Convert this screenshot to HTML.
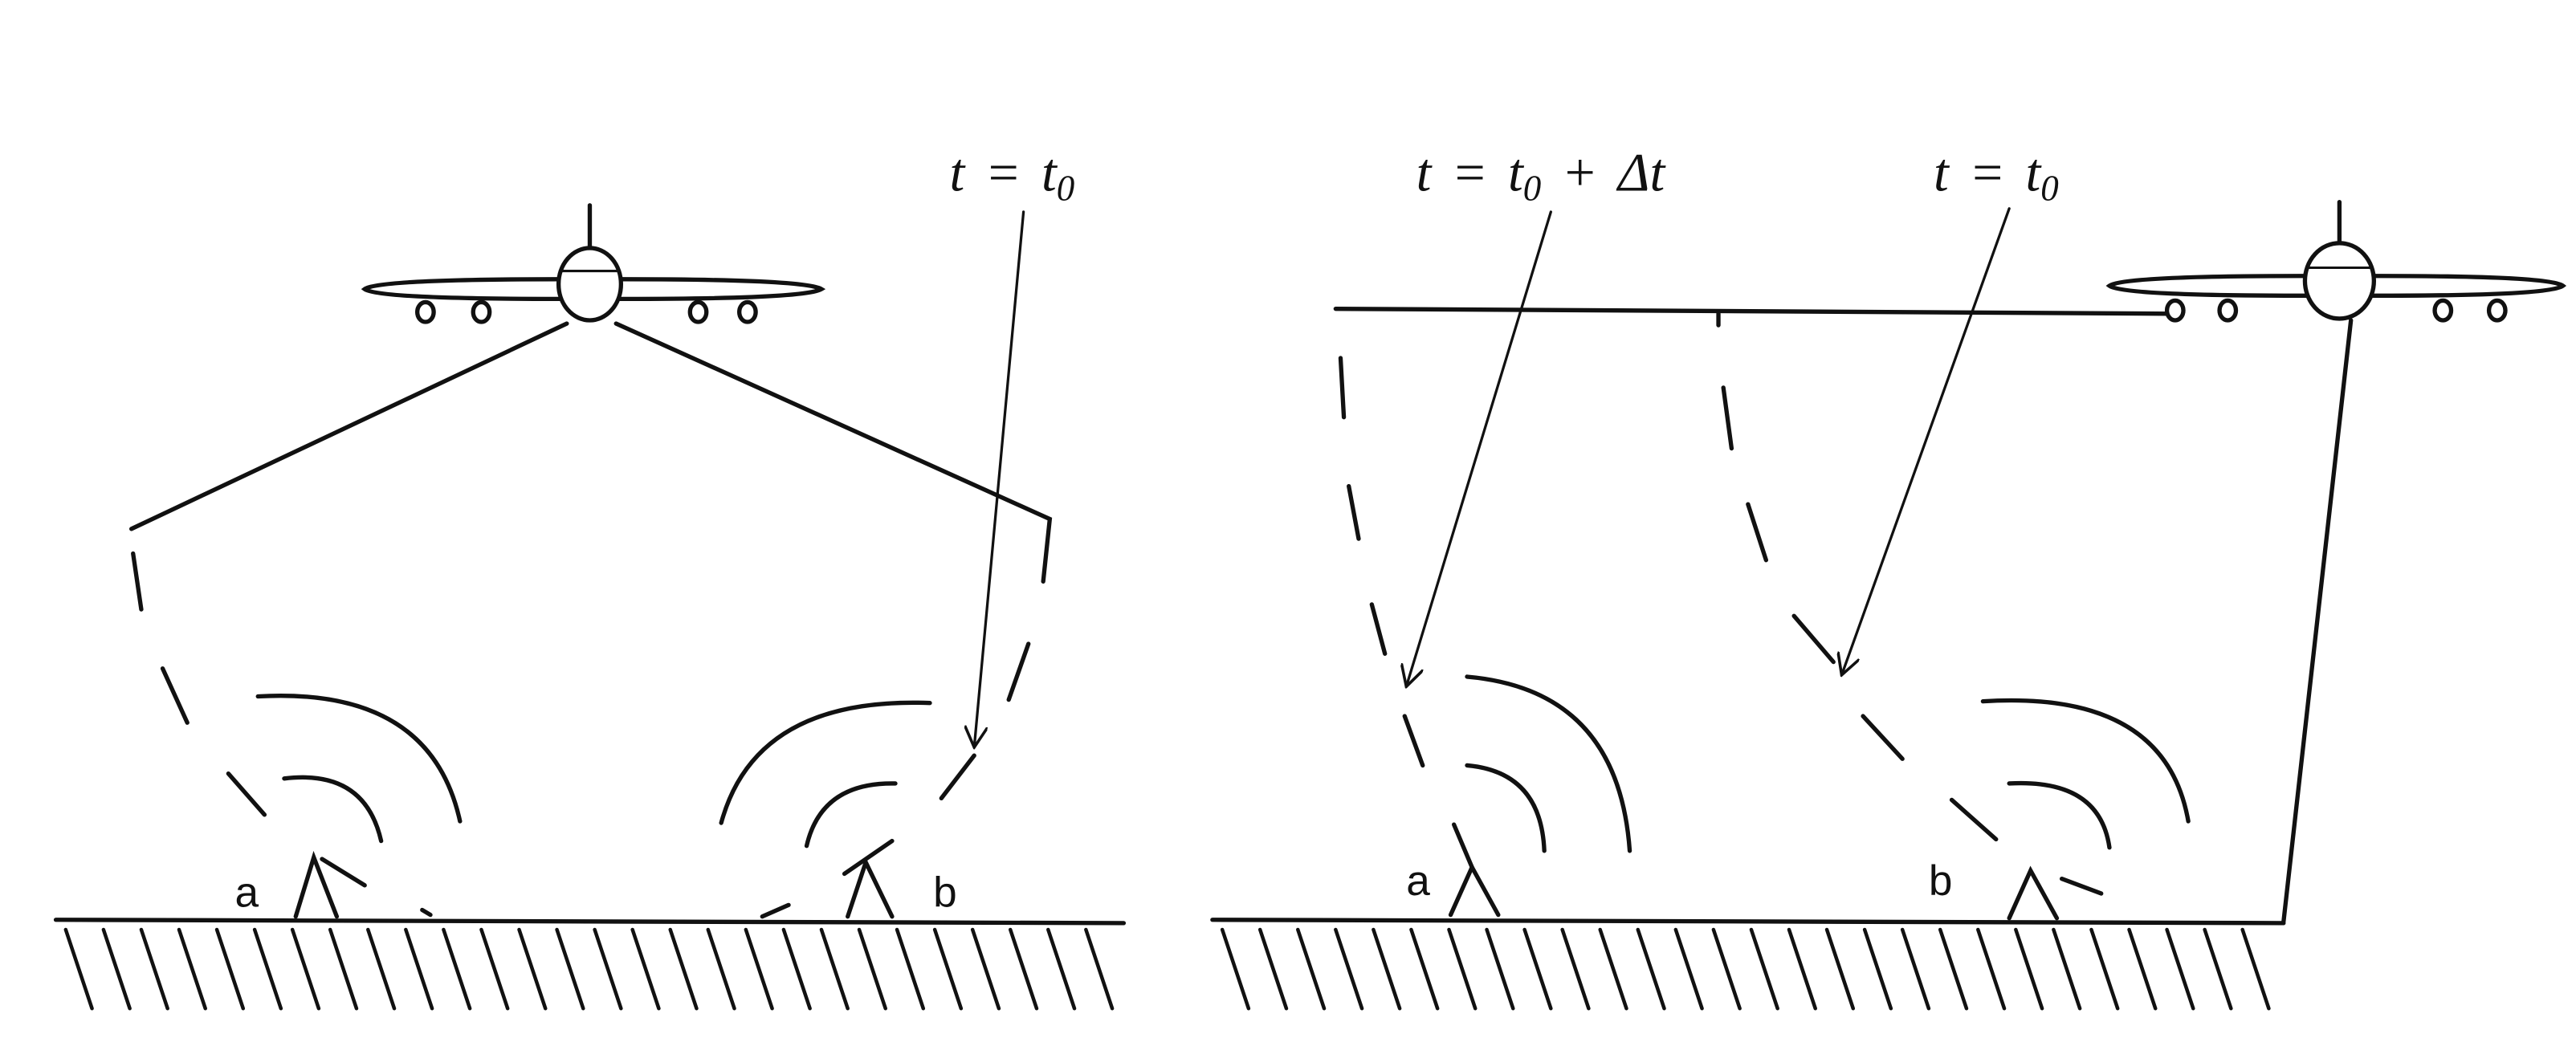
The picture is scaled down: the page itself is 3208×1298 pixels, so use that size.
<!DOCTYPE html>
<html><head><meta charset="utf-8"><style>
html,body{margin:0;padding:0;background:#fff;}
svg{display:block;}
text{font-family:"Liberation Serif",serif;font-style:italic;fill:#111;}
.lab{font-family:"Liberation Sans",sans-serif;font-style:normal;font-size:26px;}
</style></head><body>
<svg width="3208" height="1298" viewBox="0 0 1568 634.4" preserveAspectRatio="none" xmlns="http://www.w3.org/2000/svg">
<defs>
<marker id="ar" viewBox="0 0 12 12" refX="11" refY="6" markerWidth="14" markerHeight="14" orient="auto" markerUnits="userSpaceOnUse">
<path d="M0,0 L11,6 L0,12" fill="none" stroke="#111" stroke-width="1.5"/>
</marker>
</defs>
<g stroke="#111" fill="none" stroke-width="2.6" stroke-linecap="round">
<!-- LEFT PANEL -->
<line x1="34" y1="560" x2="684" y2="562"/>
<path stroke-width="2.2" d="M40,566 l16,48 M63,566 l16,48 M86,566 l16,48 M109,566 l16,48 M132,566 l16,48 M155,566 l16,48 M178,566 l16,48 M201,566 l16,48 M224,566 l16,48 M247,566 l16,48 M270,566 l16,48 M293,566 l16,48 M316,566 l16,48 M339,566 l16,48 M362,566 l16,48 M385,566 l16,48 M408,566 l16,48 M431,566 l16,48 M454,566 l16,48 M477,566 l16,48 M500,566 l16,48 M523,566 l16,48 M546,566 l16,48 M569,566 l16,48 M592,566 l16,48 M615,566 l16,48 M638,566 l16,48 M661,566 l16,48"/>
<!-- plane left -->
<line x1="359" y1="125" x2="359" y2="150"/>
<path d="M222,176 Q230,170 340,170 L380,170 Q490,170 500,176 Q490,182 380,182 L340,182 Q230,182 222,176Z" fill="#fff"/>
<ellipse cx="359" cy="173" rx="19" ry="22" fill="#fff"/>
<line x1="341" y1="165" x2="377" y2="165" stroke-width="1.5"/>
<ellipse cx="259" cy="190" rx="5" ry="6" fill="#fff"/>
<ellipse cx="293" cy="190" rx="5" ry="6" fill="#fff"/>
<ellipse cx="425" cy="190" rx="5" ry="6" fill="#fff"/>
<ellipse cx="455" cy="190" rx="5" ry="6" fill="#fff"/>
<!-- beams -->
<line x1="345" y1="197" x2="80" y2="322"/>
<polyline points="375,197 639,316 635,354"/>
<line x1="81" y1="337" x2="86" y2="371"/>
<line x1="99" y1="407" x2="114" y2="440"/>
<line x1="139" y1="471" x2="161" y2="496"/>
<line x1="626" y1="392" x2="614" y2="426"/>
<line x1="593" y1="460" x2="573" y2="486"/>
<!-- arrow -->
<line x1="623" y1="129" x2="593" y2="455" stroke-width="1.6" marker-end="url(#ar)"/>
<!-- arcs a -->
<path d="M157,424 Q262,418 280,500"/>
<path d="M173,474 Q222,468 232,512"/>
<polyline points="180,558 191,522 205,558"/>
<line x1="196" y1="523" x2="222" y2="539"/>
<!-- arcs b -->
<path d="M439,501 Q460,424 566,428"/>
<path d="M491,515 Q500,476 545,477"/>
<polyline points="516,558 527,525 543,558"/>
<line x1="514" y1="532" x2="543" y2="512"/>
<line x1="257" y1="554" x2="262" y2="557"/>
<line x1="464" y1="558" x2="480" y2="551"/>
<!-- RIGHT PANEL -->
<line x1="738" y1="560" x2="1390" y2="562"/>
<path stroke-width="2.2" d="M744,566 l16,48 M767,566 l16,48 M790,566 l16,48 M813,566 l16,48 M836,566 l16,48 M859,566 l16,48 M882,566 l16,48 M905,566 l16,48 M928,566 l16,48 M951,566 l16,48 M974,566 l16,48 M997,566 l16,48 M1020,566 l16,48 M1043,566 l16,48 M1066,566 l16,48 M1089,566 l16,48 M1112,566 l16,48 M1135,566 l16,48 M1158,566 l16,48 M1181,566 l16,48 M1204,566 l16,48 M1227,566 l16,48 M1250,566 l16,48 M1273,566 l16,48 M1296,566 l16,48 M1319,566 l16,48 M1342,566 l16,48 M1365,566 l16,48"/>
<line x1="813" y1="188" x2="1321" y2="191"/>
<line x1="1046" y1="191" x2="1046" y2="198"/>
<line x1="1424" y1="123" x2="1424" y2="147"/>
<path d="M1284,174 Q1292,168 1400,168 L1450,168 Q1552,168 1560,174 Q1552,180 1450,180 L1400,180 Q1292,180 1284,174Z" fill="#fff"/>
<ellipse cx="1424" cy="171" rx="21" ry="23" fill="#fff"/>
<line x1="1405" y1="163" x2="1443" y2="163" stroke-width="1.5"/>
<ellipse cx="1324" cy="189" rx="5" ry="6" fill="#fff"/>
<ellipse cx="1356" cy="189" rx="5" ry="6" fill="#fff"/>
<ellipse cx="1487" cy="189" rx="5" ry="6" fill="#fff"/>
<ellipse cx="1520" cy="189" rx="5" ry="6" fill="#fff"/>
<line x1="1431" y1="195" x2="1390" y2="561"/>
<!-- left dashes -->
<line x1="816" y1="218" x2="818" y2="254"/>
<line x1="821" y1="296" x2="827" y2="328"/>
<line x1="835" y1="368" x2="843" y2="398"/>
<line x1="855" y1="436" x2="866" y2="466"/>
<line x1="885" y1="502" x2="896" y2="528"/>
<!-- middle dashes -->
<line x1="1049" y1="236" x2="1054" y2="273"/>
<line x1="1064" y1="307" x2="1075" y2="341"/>
<line x1="1092" y1="375" x2="1116" y2="403"/>
<line x1="1134" y1="436" x2="1158" y2="462"/>
<line x1="1188" y1="487" x2="1215" y2="511"/>
<!-- arrows -->
<line x1="944" y1="129" x2="856" y2="418" stroke-width="1.6" marker-end="url(#ar)"/>
<line x1="1223" y1="127" x2="1121" y2="411" stroke-width="1.6" marker-end="url(#ar)"/>
<!-- arcs a -->
<path d="M893,412 Q985,420 992,518"/>
<path d="M893,466 Q938,470 940,518"/>
<polyline points="883,557 896,528 912,557"/>
<!-- arcs b -->
<path d="M1207,427 Q1318,420 1332,500"/>
<path d="M1223,477 Q1278,474 1284,516"/>
<polyline points="1223,559 1236,530 1252,559"/>
<line x1="1255" y1="535" x2="1279" y2="544"/>
</g>
<text x="578" y="116" font-size="33" word-spacing="4">t = t<tspan font-size="22" dy="6">0</tspan></text>
<text x="862" y="116" font-size="33" word-spacing="4">t = t<tspan font-size="22" dy="6">0</tspan><tspan dy="-6"> + Δt</tspan></text>
<text x="1177" y="116" font-size="33" word-spacing="4">t = t<tspan font-size="22" dy="6">0</tspan></text>
<text class="lab" x="143" y="552">a</text>
<text class="lab" x="568" y="552">b</text>
<text class="lab" x="856" y="545">a</text>
<text class="lab" x="1174" y="545">b</text>
</svg>
</body></html>
